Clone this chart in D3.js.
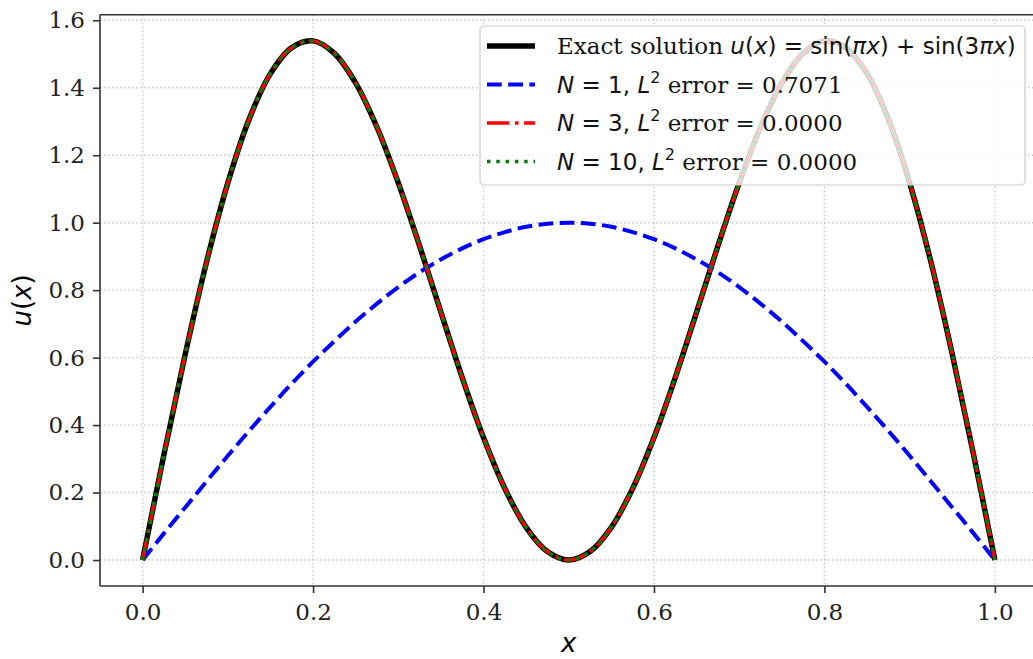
<!DOCTYPE html>
<html>
<head>
<meta charset="utf-8">
<script src="https://cdn.jsdelivr.net/npm/d3@7/dist/d3.min.js"></script>
<style>
  html, body { margin: 0; padding: 0; background: #fff; }
  svg { display: block; }
</style>
</head>
<body>
<svg id="chart" width="1033" height="659"></svg>
<script>
// ---- data ----
const xs = [0, 0.025, 0.05, 0.075, 0.1, 0.125, 0.15, 0.175, 0.2, 0.225, 0.25, 0.275, 0.3, 0.325, 0.35, 0.375, 0.4, 0.425, 0.45, 0.475, 0.5,
            0.525, 0.55, 0.575, 0.6, 0.625, 0.65, 0.675, 0.7, 0.725, 0.75, 0.775, 0.8, 0.825, 0.85, 0.875, 0.9, 0.925, 0.95, 0.975, 1.0];
const uExact = [0, 0.312, 0.610, 0.883, 1.118, 1.307, 1.442, 1.519, 1.539, 1.502, 1.414, 1.283, 1.118, 0.931, 0.735, 0.541, 0.363, 0.212, 0.097, 0.025, 0,
                0.025, 0.097, 0.212, 0.363, 0.541, 0.735, 0.931, 1.118, 1.283, 1.414, 1.502, 1.539, 1.519, 1.442, 1.307, 1.118, 0.883, 0.610, 0.312, 0];
const uN1 = [0, 0.079, 0.156, 0.233, 0.309, 0.383, 0.454, 0.523, 0.588, 0.649, 0.707, 0.760, 0.809, 0.853, 0.891, 0.924, 0.951, 0.972, 0.988, 0.997, 1.0,
             0.997, 0.988, 0.972, 0.951, 0.924, 0.891, 0.853, 0.809, 0.760, 0.707, 0.649, 0.588, 0.523, 0.454, 0.383, 0.309, 0.233, 0.156, 0.079, 0];
const uN3 = [0, 0.312, 0.610, 0.883, 1.118, 1.307, 1.442, 1.519, 1.539, 1.502, 1.414, 1.283, 1.118, 0.931, 0.735, 0.541, 0.363, 0.212, 0.097, 0.025, 0,
             0.025, 0.097, 0.212, 0.363, 0.541, 0.735, 0.931, 1.118, 1.283, 1.414, 1.502, 1.539, 1.519, 1.442, 1.307, 1.118, 0.883, 0.610, 0.312, 0];
const uN10 = [0, 0.312, 0.610, 0.883, 1.118, 1.307, 1.442, 1.519, 1.539, 1.502, 1.414, 1.283, 1.118, 0.931, 0.735, 0.541, 0.363, 0.212, 0.097, 0.025, 0,
              0.025, 0.097, 0.212, 0.363, 0.541, 0.735, 0.931, 1.118, 1.283, 1.414, 1.502, 1.539, 1.519, 1.442, 1.307, 1.118, 0.883, 0.610, 0.312, 0];
const xTicks = [0.0, 0.2, 0.4, 0.6, 0.8, 1.0];
const yTicks = [0.0, 0.2, 0.4, 0.6, 0.8, 1.0, 1.2, 1.4, 1.6];
const errN1 = "0.7071", errN3 = "0.0000", errN10 = "0.0000";

// ---- layout ----
const svg = d3.select("#chart");
const L = 100, R = 1037.5, T = 14.7, B = 586;
const x = d3.scaleLinear().domain([-0.05, 1.05]).range([L, R]);
const y = d3.scaleLinear().domain([-0.077, 1.6166]).range([B, T]);

const SERIF = "'DejaVu Serif', serif";
const SANS = "'DejaVu Sans', sans-serif";

// grid
const grid = svg.append("g");
grid.selectAll("line.gx").data(xTicks).enter().append("line")
  .attr("x1", d => x(d)).attr("x2", d => x(d)).attr("y1", T).attr("y2", B)
  .attr("stroke", "#b0b0b0").attr("stroke-opacity", 0.7).attr("stroke-width", 1.4).attr("stroke-dasharray", "1.5,2.5");
grid.selectAll("line.gy").data(yTicks).enter().append("line")
  .attr("x1", L).attr("x2", R).attr("y1", d => y(d)).attr("y2", d => y(d))
  .attr("stroke", "#b0b0b0").attr("stroke-opacity", 0.7).attr("stroke-width", 1.4).attr("stroke-dasharray", "1.5,2.5");

// axes
const xAxis = d3.axisBottom(x).tickValues(xTicks).tickFormat(d3.format(".1f")).tickSize(7).tickPadding(6);
const yAxis = d3.axisLeft(y).tickValues(yTicks).tickFormat(d3.format(".1f")).tickSize(7).tickPadding(8);
const gx = svg.append("g").attr("transform", `translate(0,${B})`).call(xAxis);
const gy = svg.append("g").attr("transform", `translate(${L},0)`).call(yAxis);
[gx, gy].forEach(g => {
  g.select(".domain").remove();
  g.selectAll(".tick line").attr("stroke", "#333").attr("stroke-width", 1.6);
  g.selectAll(".tick text").attr("fill", "#222").style("font-family", SERIF).style("font-size", "23px");
});
gx.selectAll(".tick text").attr("dy", "0.9em");

// spines
svg.append("line").attr("x1", L).attr("x2", L).attr("y1", T).attr("y2", B).attr("stroke", "#333").attr("stroke-width", 1.6);
svg.append("line").attr("x1", L).attr("x2", R).attr("y1", B).attr("y2", B).attr("stroke", "#333").attr("stroke-width", 1.6);
svg.append("line").attr("x1", L).attr("x2", R).attr("y1", T).attr("y2", T).attr("stroke", "#333").attr("stroke-width", 1.6);

// curves
const line = arr => d3.line().x((d, i) => x(xs[i])).y(d => y(d)).curve(d3.curveCatmullRom)(arr);
const series = [
  { data: uExact, color: "#000000", w: 5.5, dash: null },
  { data: uN1, color: "#0000ff", w: 4, dash: "14.8,6.4" },
  { data: uN3, color: "#ff0000", w: 3.5, dash: "22.4,5.6,3.5,5.6" },
  { data: uN10, color: "#008000", w: 3.5, dash: "3.5,5.8" }
];
series.forEach(s => {
  svg.append("path").attr("d", line(s.data)).attr("fill", "none")
    .attr("stroke", s.color).attr("stroke-width", s.w)
    .attr("stroke-dasharray", s.dash).attr("stroke-linejoin", "round");
});

// axis labels
svg.append("text").attr("x", (L + R) / 2).attr("y", 652).attr("text-anchor", "middle")
  .style("font-family", SANS).style("font-size", "26px").style("font-style", "italic").text("x");
const yl = svg.append("text").attr("transform", `translate(31,${(T + B) / 2}) rotate(-90)`).attr("text-anchor", "middle")
  .style("font-family", SANS).style("font-size", "26px");
yl.append("tspan").style("font-style", "italic").text("u");
yl.append("tspan").text("(");
yl.append("tspan").style("font-style", "italic").text("x");
yl.append("tspan").text(")");

// legend
const lg = svg.append("g");
lg.append("rect").attr("x", 480).attr("y", 26).attr("width", 545).attr("height", 159).attr("rx", 4)
  .attr("fill", "#fff").attr("fill-opacity", 0.8).attr("stroke", "#cccccc").attr("stroke-width", 1.2);
const rowsY = [46, 84.5, 123, 161.5];
series.forEach((s, i) => {
  lg.append("line").attr("x1", 487).attr("x2", 535).attr("y1", rowsY[i]).attr("y2", rowsY[i])
    .attr("stroke", s.color).attr("stroke-width", s.w).attr("stroke-dasharray", s.dash);
});
function addParts(t, parts) {
  parts.forEach(p => {
    const ts = t.append("tspan").text(p.t).style("font-family", p.f || SANS);
    if (p.i) ts.style("font-style", "italic");
    if (p.sup) ts.style("font-size", "16px").attr("dy", -10);
    if (p.down) ts.attr("dy", 10);
  });
}
const tx = 557;
const t0 = lg.append("text").attr("x", tx).attr("y", rowsY[0] + 8).style("font-size", "23px").attr("fill", "#111");
addParts(t0, [
  { t: "Exact solution ", f: SERIF },
  { t: "u", i: true }, { t: "(" }, { t: "x", i: true }, { t: ") = sin(" },
  { t: "π", i: true }, { t: "x", i: true }, { t: ") + sin(3" },
  { t: "π", i: true }, { t: "x", i: true }, { t: ")" }
]);
const labelsN = [["1", errN1], ["3", errN3], ["10", errN10]];
labelsN.forEach((ln, k) => {
  const t = lg.append("text").attr("x", tx).attr("y", rowsY[k + 1] + 8).style("font-size", "23px").attr("fill", "#111");
  addParts(t, [
    { t: "N", i: true }, { t: " = " + ln[0] + ", " }, { t: "L", i: true },
    { t: "2", sup: true },
    { t: " error = " + ln[1], f: SERIF, down: true }
  ]);
});
</script>
</body>
</html>
